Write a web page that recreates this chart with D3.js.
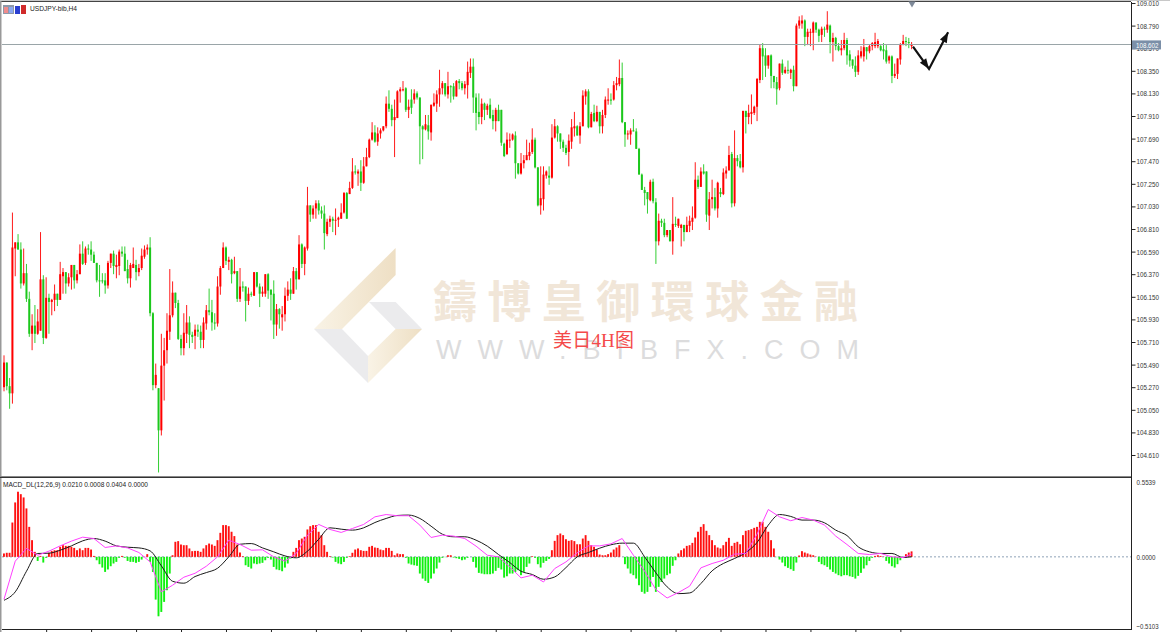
<!DOCTYPE html>
<html>
<head>
<meta charset="utf-8">
<script src="https://cdn.jsdelivr.net/npm/d3@7"></script>
<style>
html, body { margin: 0; padding: 0; background: #fff; overflow: hidden; }
text { font-family: "Liberation Sans", sans-serif; }
</style>
</head>
<body>
<svg id="chart" width="1170" height="632"></svg>
<script>
let opens = [
105.27,105.51,105.28,105.21,106.62,106.68,106.61,106.28,106.38,106.13,
105.79,105.87,105.79,105.82,106.32,105.75,106.14,106.10,106.12,106.18,
106.12,106.35,106.39,106.28,106.34,106.46,106.31,106.37,106.57,106.48,
106.62,106.61,106.56,106.48,106.31,106.31,106.31,106.26,106.48,106.57,
106.44,106.45,106.59,106.57,106.42,106.33,106.43,106.46,106.39,106.43,
106.54,106.61,106.63,105.99,105.29,105.26,104.85,105.48,105.63,105.81,
105.97,106.19,106.09,105.74,105.65,105.79,105.90,105.78,105.77,105.83,
105.81,105.73,105.89,106.02,106.00,105.90,105.89,106.25,106.43,106.63,
106.49,106.51,106.38,106.40,106.13,106.25,106.25,106.11,106.18,106.16,
106.39,106.25,106.18,106.18,106.37,106.22,106.18,105.88,106.03,105.95,
105.98,106.16,106.22,106.18,106.40,106.32,106.66,106.47,106.62,107.04,
106.95,107.01,107.06,106.99,106.96,106.76,106.88,106.91,106.89,106.90,
106.91,106.97,107.16,107.15,107.21,107.37,107.35,107.37,107.26,107.42,
107.51,107.68,107.75,107.66,107.74,107.77,107.81,108.03,107.98,107.87,
107.89,108.15,108.16,108.18,107.97,108.07,108.07,108.13,108.09,107.81,
107.78,107.82,107.75,108.01,108.03,108.12,108.18,108.23,108.12,108.20,
108.20,108.10,108.25,108.23,108.18,108.21,108.33,108.39,108.09,107.95,
107.90,108.03,107.97,108.02,107.92,107.86,107.97,107.97,107.64,107.54,
107.67,107.68,107.72,107.45,107.35,107.45,107.48,107.52,107.56,107.68,
107.41,107.04,107.10,107.33,107.33,107.31,107.70,107.81,107.74,107.66,
107.60,107.56,107.66,107.79,107.81,107.72,107.81,108.10,108.15,107.80,
107.94,107.86,107.95,107.81,107.92,108.06,108.07,108.07,108.21,108.22,
108.28,107.85,107.73,107.73,107.77,107.76,107.59,107.34,107.19,107.17,
107.09,107.27,107.07,106.69,106.89,106.87,106.75,106.80,106.69,106.86,
106.84,106.82,106.85,106.78,106.84,106.88,106.92,107.29,107.22,107.37,
107.37,106.94,107.10,107.12,107.01,107.17,107.15,107.35,107.38,107.54,
107.06,107.50,107.47,107.41,107.96,107.90,107.93,107.94,108.00,108.26,
108.57,108.50,108.40,108.50,108.30,108.24,108.18,108.42,108.33,108.36,
108.33,108.36,108.20,108.79,108.81,108.84,108.68,108.72,108.72,108.82,
108.75,108.70,108.76,108.75,108.79,108.63,108.67,108.59,108.55,108.57,
108.65,108.51,108.46,108.40,108.34,108.49,108.49,108.58,108.54,108.59,
108.59,108.59,108.59,108.56,108.55,108.45,108.49,108.30,108.32,108.46,
108.60,108.64,108.63,108.59
];

let highs = [
105.58,105.51,105.36,106.97,106.68,106.76,106.68,106.62,106.47,106.20,
105.98,106.07,106.03,106.78,106.36,106.34,106.18,106.13,106.27,106.18,
106.49,106.43,106.39,106.38,106.46,106.46,106.41,106.66,106.69,106.64,
106.66,106.69,106.59,106.48,106.46,106.38,106.38,106.50,106.57,106.60,
106.56,106.61,106.64,106.64,106.51,106.48,106.63,106.51,106.47,106.62,
106.65,106.66,106.73,106.00,105.50,105.26,105.79,105.75,105.99,106.42,
106.30,106.19,106.12,105.78,105.99,106.07,105.96,105.81,105.88,105.88,
105.87,105.95,106.07,106.23,106.12,105.99,106.35,106.45,106.68,106.64,
106.54,106.52,106.54,106.40,106.43,106.30,106.25,106.24,106.20,106.39,
106.39,106.28,106.25,106.37,106.38,106.22,106.31,106.08,106.04,106.06,
106.24,106.30,106.33,106.44,106.43,106.75,106.67,106.64,107.22,107.04,
107.04,107.09,107.09,107.03,107.04,106.91,106.94,106.93,107.01,106.93,
107.06,107.17,107.17,107.27,107.50,107.43,107.39,107.48,107.51,107.60,
107.69,107.85,107.82,107.80,107.79,107.81,108.10,108.16,108.02,108.07,
108.16,108.19,108.25,108.19,108.07,108.17,108.17,108.15,108.09,107.82,
107.92,107.92,108.02,108.13,108.16,108.36,108.25,108.23,108.34,108.21,
108.23,108.26,108.27,108.25,108.25,108.44,108.47,108.47,108.13,108.13,
108.08,108.04,108.03,108.08,107.97,107.99,108.02,107.97,107.65,107.75,
107.74,107.74,107.76,107.45,107.55,107.53,107.68,107.65,107.79,107.70,
107.41,107.42,107.42,107.38,107.42,107.83,107.88,107.82,107.74,107.68,
107.63,107.73,107.88,107.95,107.82,107.85,108.16,108.17,108.17,107.95,
108.02,108.01,107.95,107.97,108.10,108.18,108.13,108.25,108.29,108.46,
108.43,107.85,107.77,107.79,107.88,107.79,107.60,107.35,107.22,107.17,
107.29,107.30,107.11,106.96,106.91,106.91,106.80,106.80,107.12,106.93,
106.91,106.86,106.85,106.93,106.94,107.03,107.46,107.33,107.41,107.44,
107.37,107.17,107.29,107.21,107.27,107.21,107.40,107.42,107.62,107.56,
107.77,107.53,107.54,107.96,107.96,108.02,108.12,108.01,108.28,108.61,
108.62,108.57,108.50,108.51,108.30,108.29,108.42,108.46,108.39,108.45,
108.37,108.40,108.81,108.88,108.89,108.85,108.76,108.76,108.83,108.82,
108.76,108.78,108.78,108.93,108.80,108.72,108.68,108.62,108.65,108.72,
108.67,108.55,108.46,108.49,108.55,108.59,108.66,108.58,108.61,108.63,
108.72,108.66,108.60,108.62,108.60,108.50,108.50,108.42,108.47,108.62,
108.70,108.68,108.67,108.63
];

let lows = [
105.23,105.24,105.06,105.11,106.35,106.61,106.23,106.26,106.10,105.76,
105.63,105.70,105.78,105.82,105.69,105.74,105.79,105.97,106.01,106.06,
106.12,106.18,106.18,106.25,106.22,106.23,106.28,106.37,106.46,106.46,
106.56,106.50,106.48,106.29,106.15,106.28,106.18,106.23,106.43,106.37,
106.33,106.36,106.54,106.40,106.28,106.24,106.43,106.31,106.35,106.41,
106.52,106.56,105.96,105.24,105.26,104.44,104.80,105.14,105.50,105.73,
105.95,106.04,105.73,105.58,105.58,105.70,105.65,105.70,105.64,105.76,
105.65,105.65,105.83,105.97,105.82,105.83,105.86,106.17,106.43,106.46,
106.41,106.28,106.37,106.10,106.10,106.20,105.91,106.07,106.15,106.16,
106.24,106.05,106.15,106.15,106.13,105.92,105.74,105.77,105.84,105.82,
105.91,106.11,106.12,106.18,106.22,106.32,106.43,106.36,106.60,106.88,
106.91,106.91,106.95,106.91,106.61,106.74,106.83,106.78,106.75,106.83,
106.91,106.96,106.91,107.15,107.20,107.34,107.23,107.18,107.25,107.42,
107.50,107.67,107.65,107.62,107.69,107.76,107.79,107.95,107.81,107.51,
107.89,108.04,108.15,107.95,107.89,107.93,108.03,108.07,107.44,107.49,
107.77,107.68,107.67,108.00,107.95,108.00,108.12,108.10,108.08,108.04,
108.07,108.10,108.17,108.16,108.12,108.08,108.28,107.94,107.77,107.83,
107.83,107.87,107.92,107.88,107.78,107.76,107.86,107.62,107.51,107.53,
107.60,107.67,107.30,107.34,107.34,107.40,107.48,107.48,107.54,107.40,
107.03,106.95,106.99,107.30,107.24,107.30,107.69,107.66,107.59,107.56,
107.53,107.42,107.59,107.71,107.72,107.64,107.81,108.02,107.79,107.80,
107.85,107.85,107.74,107.74,107.89,108.02,108.02,108.06,108.16,108.20,
107.84,107.61,107.68,107.63,107.76,107.59,107.34,107.19,107.04,106.96,
107.08,107.06,106.47,106.65,106.83,106.73,106.73,106.69,106.56,106.83,
106.82,106.64,106.69,106.78,106.78,106.80,106.91,107.20,107.22,107.34,
106.88,106.80,107.01,106.99,106.92,107.12,107.14,107.30,107.38,107.02,
107.03,107.42,107.40,107.36,107.74,107.83,107.83,107.92,107.86,108.23,
108.26,108.29,108.37,108.18,108.18,108.02,108.16,108.31,108.32,108.32,
108.27,108.15,108.20,108.76,108.76,108.59,108.60,108.59,108.55,108.72,
108.63,108.63,108.68,108.72,108.52,108.44,108.55,108.54,108.50,108.55,
108.41,108.39,108.37,108.29,108.31,108.47,108.44,108.46,108.52,108.55,
108.57,108.57,108.54,108.46,108.42,108.42,108.23,108.28,108.27,108.41,
108.60,108.59,108.57,108.56
];

let closes = [
105.51,105.28,105.21,106.63,106.68,106.61,106.28,106.38,106.13,105.79,
105.87,105.79,105.91,106.32,105.75,106.14,106.10,106.12,106.18,106.12,
106.37,106.39,106.28,106.34,106.46,106.31,106.37,106.57,106.47,106.62,
106.61,106.56,106.48,106.31,106.30,106.30,106.26,106.48,106.57,106.45,
106.46,106.59,106.57,106.40,106.33,106.46,106.47,106.39,106.43,106.55,
106.61,106.63,105.99,105.29,105.39,104.85,105.48,105.63,105.82,105.97,
106.19,106.09,105.74,105.65,105.80,105.90,105.78,105.76,105.83,105.81,
105.73,105.90,106.02,106.00,105.90,105.89,106.25,106.43,106.63,106.50,
106.51,106.37,106.40,106.13,106.25,106.24,106.11,106.18,106.17,106.39,
106.25,106.18,106.20,106.37,106.21,106.17,105.88,106.03,105.98,105.98,
106.16,106.22,106.18,106.40,106.32,106.66,106.47,106.63,107.04,106.95,
107.01,107.06,106.99,106.96,106.77,106.88,106.91,106.89,106.90,106.92,
106.97,107.16,106.91,107.21,107.37,107.36,107.37,107.26,107.42,107.51,
107.68,107.75,107.66,107.74,107.77,107.81,108.03,107.98,107.87,107.90,
108.15,108.17,108.17,107.97,108.00,107.99,108.13,108.09,107.81,107.78,
107.83,107.76,108.02,108.04,108.12,108.18,108.23,108.12,108.20,108.19,
108.10,108.25,108.23,108.18,108.22,108.34,108.39,108.09,107.94,107.90,
108.03,107.97,108.01,107.89,107.86,107.97,107.86,107.65,107.52,107.68,
107.68,107.73,107.45,107.35,107.45,107.48,107.53,107.56,107.68,107.41,
107.04,107.11,107.34,107.37,107.31,107.70,107.81,107.74,107.66,107.60,
107.55,107.67,107.80,107.81,107.72,107.81,108.11,108.15,107.80,107.93,
107.86,107.95,107.81,107.92,108.07,108.07,108.06,108.21,108.23,108.28,
107.85,107.73,107.74,107.77,107.76,107.59,107.34,107.19,107.16,107.10,
107.27,107.08,106.69,106.89,106.87,106.75,106.80,106.69,106.86,106.85,
106.91,106.85,106.78,106.85,106.89,106.92,107.29,107.22,107.37,107.35,
106.95,107.10,107.12,107.01,107.26,107.15,107.36,107.38,107.53,107.06,
107.50,107.47,107.41,107.96,107.90,107.94,107.95,108.00,108.27,108.57,
108.49,108.40,108.50,108.30,108.24,108.17,108.42,108.33,108.36,108.35,
108.36,108.20,108.79,108.84,108.84,108.68,108.73,108.73,108.82,108.75,
108.69,108.76,108.75,108.80,108.63,108.67,108.59,108.55,108.57,108.65,
108.50,108.45,108.40,108.34,108.50,108.54,108.58,108.54,108.59,108.62,
108.63,108.64,108.55,108.54,108.44,108.49,108.30,108.32,108.47,108.61,
108.64,108.63,108.62,108.602
];

// osma histogram, one value per candle
let histValues = [
.025,.030,.030,.253,.401,.480,.462,.438,.357,.221,
.123,.037,-.030,.007,-.042,-.007,.030,.044,.049,.049,
.074,.086,.081,.081,.074,.066,.049,.062,.049,.066,
.066,.054,.007,-.025,-.054,-.079,-.111,-.093,-.069,-.049,
-.037,-.007,.007,-.007,-.030,-.037,-.037,-.044,-.037,-.020,
.002,.020,-.037,-.111,-.315,-.438,-.406,-.332,-.246,-.123,
.012,.111,.116,.091,.086,.086,.062,.042,.044,.044,
.037,.062,.086,.098,.091,.081,.123,.177,.234,.234,
.226,.185,.153,.091,.032,.005,-.062,-.074,-.086,-.049,
-.054,-.049,-.044,-.025,-.007,-.020,-.074,-.093,-.098,-.106,
-.079,-.049,-.012,.037,.066,.123,.135,.148,.202,.226,
.234,.234,.185,.160,.086,.037,.005,-.005,-.037,-.049,
-.054,-.037,-.007,.005,.030,.054,.062,.049,.044,.044,
.074,.081,.069,.066,.054,.049,.066,.066,.044,.012,
.025,.020,.020,-.007,-.049,-.057,-.062,-.066,-.123,-.160,
-.177,-.192,-.160,-.123,-.086,-.042,-.007,-.002,.012,.012,
-.005,-.010,-.015,-.025,-.020,-.007,0,-.037,-.079,-.118,
-.123,-.128,-.128,-.128,-.123,-.103,-.081,-.093,-.153,-.143,
-.123,-.123,-.111,-.098,-.135,-.111,-.074,-.049,.005,-.007,
-.054,-.079,-.044,-.030,-.015,.049,.118,.160,.172,.160,
.130,.118,.123,.116,.093,.093,.135,.160,.118,.086,
.074,.054,.017,.012,.012,.020,.032,.054,.069,.086,
0,-.054,-.086,-.123,-.135,-.160,-.209,-.258,-.271,-.258,
-.221,-.148,-.258,-.221,-.185,-.160,-.135,-.123,-.066,-.025,
.025,.049,.062,.081,.086,.103,.143,.185,.221,.241,
.192,.160,.123,.086,.069,.062,.086,.111,.140,.081,
.103,.111,.093,.160,.192,.197,.204,.214,.221,.258,
.258,.221,.185,.123,.062,-.002,-.020,-.042,-.069,-.081,
-.091,-.103,-.042,.010,.042,.032,.025,.017,.012,.002,
-.037,-.054,-.062,-.074,-.093,-.111,-.123,-.135,-.143,-.135,
-.135,-.143,-.148,-.160,-.140,-.118,-.086,-.062,-.030,-.007,
.007,.012,.007,.002,-.030,-.049,-.069,-.079,-.054,-.025,
0,.020,.032,.0404
];

// the two macd lines were read every 4 candles
let lineBars = [
0,4,8,12,16,20,24,28,32,36,40,44,48,52,56,60,64,68,72,76,
80,84,88,92,96,100,104,108,112,116,120,124,128,132,136,140,144,148,152,156,
160,164,168,172,176,180,184,188,192,196,200,204,208,212,216,220,224,228,232,236,
240,244,248,252,256,260,264,268,272,276,280,284,288,292,296,300,304,308,312,316,
320,323
];
let signalValues = [
-.320,-.258,-.106,.025,.027,.049,.081,.118,.135,.116,.081,.071,.066,.044,-.066,-.180,-.194,-.145,-.116,-.084,
0,.093,.098,.066,.037,.007,-.007,.042,.130,.214,.204,.197,.214,.253,.283,.305,.308,.283,.226,.167,
.148,.148,.123,.079,.017,-.042,-.106,-.130,-.165,-.148,-.079,0,.032,.064,.089,.101,.101,0,-.118,-.221,
-.271,-.266,-.197,-.103,-.049,-.012,.032,.106,.234,.312,.298,.271,.271,.251,.197,.157,.074,.037,.025,.025,
-.005,.0008
];
let macdValues = [
-.312,-.032,.062,.012,.042,.081,.116,.145,.135,.069,.081,.066,.032,-.037,-.258,-.209,-.150,-.121,-.069,0,
.123,.091,.049,.052,0,-.032,.025,.160,.239,.202,.180,.209,.239,.295,.312,.303,.303,.234,.143,.160,
.153,.135,.079,.012,0,-.074,-.155,-.135,-.185,-.086,-.037,.030,.081,.081,.096,.135,.012,-.106,-.241,-.303,
-.263,-.216,-.081,-.049,-.025,.020,.025,.167,.349,.295,.266,.290,.271,.234,.153,.091,.025,.017,.025,0,
-.005,.0210
];

let priceTicks = [109.01,108.79,108.57,108.35,108.13,107.91,107.69,107.47,107.25,107.03,106.81,106.59,106.37,106.15,105.93,105.71,105.49,105.27,105.05,104.83,104.61];
let macdTicks = [0.5539, 0, -0.5103];
let timeTicks = [15,31,47,63,79,95,111,127,143,159,175,191,207,223,239,255,271,287,303,319];
let lastPrice = 108.602;
let macdLabel = "MACD_DL(12,26,9) 0.0210 0.0008 0.0404 0.0000";
let arrowBars = [323.5, 329.2, 336];
let arrowPrices = [108.585, 108.368, 108.725];

let svg = d3.select("#chart");
let xScale = d3.scaleLinear().domain([0, opens.length - 1]).range([4, 911.6]);
let yPrice = d3.scaleLinear().domain([104.61, 109.01]).range([455, 3]);
let yMacd = d3.scaleLinear().domain([-0.5103, 0.5539]).range([626.1, 481.7]);

let bull = "#ff0000";
let bear = "#1cc81c";
let bars = d3.range(opens.length);

// watermark
let defs = svg.append("defs");
let grad = defs.append("linearGradient").attr("id", "tan");
grad.append("stop").attr("offset", "0%").attr("stop-color", "#f9f3e6");
grad.append("stop").attr("offset", "100%").attr("stop-color", "#eedfc4");

let mark = svg.append("g");
let logo = [
    {fill: "url(#tan)", pts: [[395.6,248],[395.6,275],[342,329],[314,329]]},
    {fill: "#ebebed", pts: [[369,302],[395.6,302],[422,329],[395.6,329]]},
    {fill: "url(#tan)", pts: [[395.6,329],[422,329],[368,383],[368,356]]},
    {fill: "#ebebed", pts: [[314,329],[342,329],[368,356],[368,383]]}
];
mark.selectAll("polygon").data(logo).enter().append("polygon")
    .attr("points", (d) => d.pts.join(" "))
    .attr("fill", (d) => d.fill);
mark.append("text")
    .attr("x", 433).attr("y", 318)
    .attr("textLength", 425)
    .style("font-family", '"Noto Sans CJK TC"')
    .style("font-size", "44px").style("font-weight", 700)
    .attr("fill", "#f1e6d8")
    .text("鑄博皇御環球金融");
mark.append("text")
    .attr("x", 436).attr("y", 359)
    .attr("textLength", 423)
    .style("font-size", "27px")
    .attr("fill", "#dcdcdd")
    .text("WWW.BIBFX.COM");

// candles
let candles = svg.append("g").selectAll("g").data(bars).enter().append("g")
    .attr("fill", (i) => closes[i] >= opens[i] ? bull : bear)
    .attr("stroke", (i) => closes[i] >= opens[i] ? bull : bear);
candles.append("line")
    .attr("x1", (i) => xScale(i)).attr("x2", (i) => xScale(i))
    .attr("y1", (i) => yPrice(highs[i])).attr("y2", (i) => yPrice(lows[i]))
    .attr("stroke-width", 0.9);
candles.append("rect")
    .attr("x", (i) => xScale(i) - 1)
    .attr("width", 2)
    .attr("y", (i) => yPrice(Math.max(opens[i], closes[i])))
    .attr("height", (i) => Math.max(1, Math.abs(yPrice(opens[i]) - yPrice(closes[i]))))
    .attr("stroke", "none");

// last price line
svg.append("line").attr("x1", 2).attr("x2", 1131)
    .attr("y1", yPrice(lastPrice)).attr("y2", yPrice(lastPrice))
    .attr("stroke", "#9aa5a8").attr("stroke-width", 1)
    .attr("shape-rendering", "crispEdges");

// hand drawn arrows
let arrowPts = arrowBars.map((b, i) => [xScale(b), yPrice(arrowPrices[i])]);
svg.append("path")
    .attr("d", d3.line()(arrowPts))
    .attr("fill", "none").attr("stroke", "#111").attr("stroke-width", 2.2);
[[arrowPts[0], arrowPts[1]], [arrowPts[1], arrowPts[2]]].forEach((seg) => {
    let a = Math.atan2(seg[1][1] - seg[0][1], seg[1][0] - seg[0][0]);
    let tip = seg[1];
    let back = (off) => [tip[0] - 11 * Math.cos(a + off), tip[1] - 11 * Math.sin(a + off)];
    svg.append("polygon")
        .attr("points", [tip, back(0.36), back(-0.36)].join(" "))
        .attr("fill", "#111");
});

svg.append("text")
    .attr("x", 553).attr("y", 347)
    .style("font-family", '"Liberation Serif", "Noto Sans CJK SC"')
    .style("font-size", "19px").style("font-weight", 400)
    .attr("textLength", 81)
    .attr("fill", "#f44a4a")
    .text("美日4H图");

// macd pane
svg.append("line").attr("x1", 2).attr("x2", 1131)
    .attr("y1", yMacd(0)).attr("y2", yMacd(0))
    .attr("stroke", "#8fa2b8").attr("stroke-width", 1).attr("stroke-dasharray", "2,2");
svg.append("g").selectAll("rect").data(bars).enter().append("rect")
    .attr("x", (i) => xScale(i) - 1)
    .attr("width", 1.9)
    .attr("y", (i) => yMacd(Math.max(0, histValues[i])))
    .attr("height", (i) => Math.abs(yMacd(histValues[i]) - yMacd(0)))
    .attr("fill", (i) => histValues[i] >= 0 ? "#ff1010" : "#10f010");

let macdLine = d3.line()
    .x((d) => xScale(d[0]))
    .y((d) => yMacd(d[1]));
svg.append("path")
    .attr("d", macdLine.curve(d3.curveMonotoneX)(lineBars.map((b, i) => [b, signalValues[i]])))
    .attr("fill", "none").attr("stroke", "#1a1a1a").attr("stroke-width", 1);
svg.append("path")
    .attr("d", macdLine.curve(d3.curveLinear)(lineBars.map((b, i) => [b, macdValues[i]])))
    .attr("fill", "none").attr("stroke", "#ff40ff").attr("stroke-width", 1);

// frame
svg.append("rect").attr("x", 0).attr("y", 0).attr("width", 1170).attr("height", 1).attr("fill", "#c8c8c8");
svg.append("rect").attr("x", 0).attr("y", 1).attr("width", 1131).attr("height", 1).attr("fill", "#444");
svg.append("rect").attr("x", 0).attr("y", 1).attr("width", 1.5).attr("height", 631).attr("fill", "#999");
svg.append("rect").attr("x", 0).attr("y", 476).attr("width", 1131).attr("height", 1).attr("fill", "#888");
svg.append("rect").attr("x", 0).attr("y", 477).attr("width", 1131).attr("height", 1).attr("fill", "#333");

// axes
let priceAxis = d3.axisRight(yPrice).tickValues(priceTicks).tickFormat(d3.format(".3f")).tickSize(4).tickPadding(1);
let priceG = svg.append("g").attr("transform", "translate(1131.5,0)").call(priceAxis);
priceG.select(".domain").attr("d", "M0,2V630").attr("stroke", "#222");
priceG.selectAll(".tick line").attr("stroke", "#222");
priceG.selectAll("text").attr("fill", "#333").style("font-size", "8px")
    .attr("textLength", 22.5).attr("lengthAdjust", "spacingAndGlyphs");

let macdAxis = d3.axisRight(yMacd).tickValues(macdTicks).tickFormat(d3.format(".4f")).tickSize(0).tickPadding(5);
let macdG = svg.append("g").attr("transform", "translate(1131.5,0)").call(macdAxis);
macdG.select(".domain").remove();
macdG.selectAll("text").attr("fill", "#333").style("font-size", "8px")
    .attr("textLength", (d) => d < 0 ? 22 : 19).attr("lengthAdjust", "spacingAndGlyphs");

let timeAxis = d3.axisBottom(xScale).tickValues(timeTicks).tickFormat("").tickSize(3);
let timeG = svg.append("g").attr("transform", "translate(0,629.5)").call(timeAxis);
timeG.select(".domain").attr("d", "M2,0H1131").attr("stroke", "#222");
timeG.selectAll(".tick line").attr("stroke", "#222");

// last price tag
svg.append("rect").attr("x", 1132).attr("y", yPrice(lastPrice) - 4.5).attr("width", 29).attr("height", 9).attr("fill", "#7b8fa8");
svg.append("text").attr("x", 1136).attr("y", yPrice(lastPrice) + 3)
    .attr("textLength", 22.5).attr("lengthAdjust", "spacingAndGlyphs")
    .attr("fill", "#fff").style("font-size", "8px")
    .text(d3.format(".3f")(lastPrice));

// period marker
svg.append("path").attr("d", d3.symbol(d3.symbolTriangle, 22)()).attr("fill", "#7f8a99")
    .attr("transform", "translate(912,3.5) rotate(180)");

// header
svg.append("text").attr("x", 30).attr("y", 11).attr("textLength", 47).attr("lengthAdjust", "spacingAndGlyphs")
    .attr("fill", "#222").style("font-size", "8px").text("USDJPY-bib,H4");
svg.append("text").attr("x", 3).attr("y", 487).attr("textLength", 145).attr("lengthAdjust", "spacingAndGlyphs")
    .attr("fill", "#222").style("font-size", "8px").text(macdLabel);

// window icons in the header
let icons = [
    {x: 3, y: 5, w: 11, h: 9, c: "#8f98a8"},
    {x: 4, y: 7, w: 4, h: 6, c: "#f08c8c"},
    {x: 9, y: 7, w: 4, h: 6, c: "#8ca8f0"},
    {x: 15, y: 6, w: 5, h: 8, c: "#2a3fd0"},
    {x: 21, y: 5, w: 5, h: 9, c: "#d02a2a"}
];
svg.append("g").selectAll("rect").data(icons).enter().append("rect")
    .attr("x", (d) => d.x).attr("y", (d) => d.y)
    .attr("width", (d) => d.w).attr("height", (d) => d.h)
    .attr("fill", (d) => d.c);
</script>
</body>
</html>
